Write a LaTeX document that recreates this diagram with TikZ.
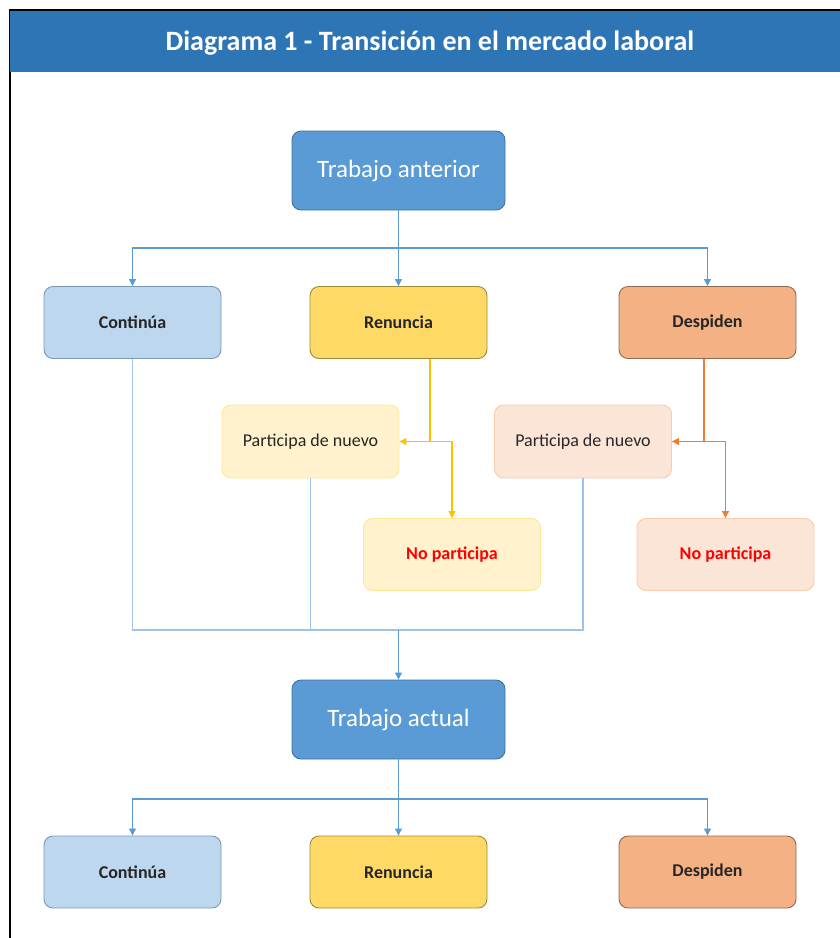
\documentclass[tikz,border=0pt]{standalone}
\usepackage{fontspec}
\setmainfont{Carlito}
\usepackage{xcolor}
\usepackage{tikz}
\usetikzlibrary{arrows.meta}

\definecolor{headblue}{HTML}{2E75B6}
\definecolor{mainblue}{HTML}{5B9BD5}
\definecolor{mainedge}{HTML}{41719C}
\definecolor{contfill}{HTML}{BDD7EE}
\definecolor{contedge}{HTML}{7D98B3}
\definecolor{renfill}{HTML}{FFD966}
\definecolor{renedge}{HTML}{9E8A3E}
\definecolor{despfill}{HTML}{F4B183}
\definecolor{despedge}{HTML}{8F6A55}
\definecolor{palegold}{HTML}{FFF2CC}
\definecolor{palegoldedge}{HTML}{FFE699}
\definecolor{palepeach}{HTML}{FBE5D6}
\definecolor{palepeachedge}{HTML}{F8CBAD}
\definecolor{mergeblue}{HTML}{9DC3E6}
\definecolor{goldline}{HTML}{FFC000}
\definecolor{orangeline}{HTML}{ED7D31}
\definecolor{darktext}{HTML}{262626}

\tikzset{
	caja/.style={rounded corners=9pt, line width=0.9pt, inner sep=0pt,
		minimum width=177pt, minimum height=72pt, text=darktext,
		font=\fontsize{18}{20}\selectfont},
	fila/.style={caja, font=\bfseries\fontsize{18}{20}\selectfont},
	grande/.style={caja, fill=mainblue, draw=mainedge, text=white,
		minimum width=213pt, minimum height=79pt,
		font=\fontsize{25}{28}\selectfont},
	nopart/.style={font=\bfseries\fontsize{18}{20}\selectfont, text=red},
	flecha/.style={-{Triangle[width=7pt,length=7pt]}, line width=1.1pt}
}

\begin{document}
\begin{tikzpicture}[x=1pt,y=-1pt]
		\useasboundingbox (0,0) rectangle (840,938);
		% frame and header
		\draw[line width=2pt] (10,938) -- (10,10) -- (840,10);
		\node[fill=headblue, minimum width=830pt, minimum height=61pt, inner sep=0pt] (titulo) at (425,41.5) {};
		\node[text=white, font=\bfseries\fontsize{28}{32}\selectfont] (tittext) at (430,43) {Diagrama 1 - Transición en el mercado laboral};
		%
		\node[grande] (anterior) at (398.5,170.5) {Trabajo anterior};
		\node[fila, fill=contfill, draw=contedge] (cont1) at (132.5,322.5) {Continúa};
		\node[fila, fill=renfill, draw=renedge] (renun1) at (398.5,322.5) {Renuncia};
		\node[fila, fill=despfill, draw=despedge] (desp1) at (707.5,322.5) {Despiden};
		\node[caja, fill=palegold, draw=palegoldedge, minimum height=73pt] (part1) at (310.5,441.5) {Participa de nuevo};
		\node[caja, fill=palegold, draw=palegoldedge, nopart] (nopart1) at (452,554.5) {No participa};
		\node[caja, fill=palepeach, draw=palepeachedge, minimum height=73pt] (part2) at (583,441.5) {Participa de nuevo};
		\node[caja, fill=palepeach, draw=palepeachedge, nopart] (nopart2) at (725.5,554.5) {No participa};
		\node[grande] (actual) at (398.5,719.5) {Trabajo actual};
		\node[fila, fill=contfill, draw=contedge] (cont2) at (132.5,872) {Continúa};
		\node[fila, fill=renfill, draw=renedge] (renun2) at (398.5,872) {Renuncia};
		\node[fila, fill=despfill, draw=despedge] (desp2) at (707.5,872) {Despiden};
		%
		\coordinate (top1) at (398.5,248);
		\coordinate (ry) at (430,441.5);
		\coordinate (oy) at (704,441.5);
		\coordinate (mj) at (398.5,630);
		\coordinate (top2) at (398.5,799);
		% first split
		\draw[mainblue, line width=1.1pt] (anterior.south) -- (top1);
		\draw[mainblue, flecha] (top1) -| (cont1.north);
		\draw[mainblue, flecha] (top1) -- (renun1.north);
		\draw[mainblue, flecha] (top1) -| (desp1.north);
		% renuncia
		\draw[goldline, line width=1.1pt] ([xshift=31.5pt]renun1.south) -- (ry);
		\draw[goldline, flecha] (ry) -- (part1.east);
		\draw[goldline, flecha] (ry) -| (nopart1.north);
		% despiden
		\draw[orangeline, line width=1.1pt] ([xshift=-3.5pt]desp1.south) -- (oy);
		\draw[orangeline, flecha] (oy) -- (part2.east);
		\draw[orangeline, flecha] (oy) -| (nopart2.north);
		% merge
		\draw[mergeblue, line width=1.4pt] (cont1.south) |- (mj) -| (part2.south);
		\draw[mergeblue, line width=1.4pt] (part1.south) -- (part1.south |- mj);
		\draw[mainblue, flecha] (mj) -- (actual.north);
		% second split
		\draw[mainblue, line width=1.1pt] (actual.south) -- (top2);
		\draw[mainblue, flecha] (top2) -| (cont2.north);
		\draw[mainblue, flecha] (top2) -- (renun2.north);
		\draw[mainblue, flecha] (top2) -| (desp2.north);
	\end{tikzpicture}
\end{document}
